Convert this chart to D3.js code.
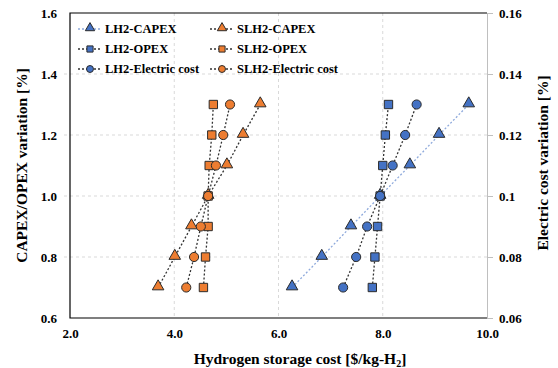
<!DOCTYPE html>
<html>
<head>
  <meta content="text/html;charset=utf-8" http-equiv="Content-Type">
  <title>Hydrogen storage cost sensitivity</title>
  <style type="text/css">
    body { margin: 0; background: #fff; }
    #chart text {
      font-family: "Liberation Serif", "Times New Roman", serif;
      font-weight: bold;
      fill: #000;
    }
  </style>
  <script src="https://cdnjs.cloudflare.com/ajax/libs/d3/7.6.1/d3.min.js"></script>
  <script>

    // variation levels (left axis) and electric cost variation (right axis)
    var variation = [0.7, 0.8, 0.9, 1.0, 1.1, 1.2, 1.3];
    var electricVariation = [0.07, 0.08, 0.09, 0.10, 0.11, 0.12, 0.13];

    // hydrogen storage cost [$/kg-H2]
    var lh2Capex  = [6.26, 6.83, 7.39, 7.95, 8.52, 9.08, 9.65];
    var lh2Opex   = [7.80, 7.85, 7.90, 7.95, 8.00, 8.05, 8.11];
    var lh2Elec   = [7.24, 7.49, 7.70, 7.95, 8.19, 8.43, 8.65];
    var slh2Capex = [3.69, 4.01, 4.33, 4.65, 5.01, 5.32, 5.65];
    var slh2Opex  = [4.56, 4.60, 4.65, 4.65, 4.67, 4.72, 4.75];
    var slh2Elec  = [4.23, 4.38, 4.51, 4.65, 4.80, 4.94, 5.07];

    var xTicks = [2, 4, 6, 8, 10];
    var yTicks = [0.6, 0.8, 1.0, 1.2, 1.4, 1.6];
    var y2Ticks = [0.06, 0.08, 0.1, 0.12, 0.14, 0.16];

    var legendOrder = ['LH2-CAPEX', 'LH2-OPEX', 'LH2-Electric cost', 'SLH2-CAPEX', 'SLH2-OPEX', 'SLH2-Electric cost'];

    function main() {
      var W = 558, H = 368;
      var m = {left: 70, right: 487, top: 13, bottom: 318};
      var blue = '#4472c4', orange = '#ed7d31';

      var svg = d3.select('#chart').attr('width', W).attr('height', H);

      var x = d3.scaleLinear().domain([2, 10]).range([m.left, m.right]);
      var y = d3.scaleLinear().domain([0.6, 1.6]).range([m.bottom, m.top]);
      var y2 = d3.scaleLinear().domain([0.06, 0.16]).range([m.bottom, m.top]);

      // grid
      var grid = svg.append('g').attr('stroke', '#d9d9d9').attr('stroke-dasharray', '3,3').attr('stroke-width', 1);
      grid.selectAll('.gx').data(xTicks.slice(1, -1)).enter().append('line')
        .attr('x1', d => x(d)).attr('x2', d => x(d)).attr('y1', m.top).attr('y2', m.bottom);
      grid.selectAll('.gy').data(yTicks.slice(1, -1)).enter().append('line')
        .attr('x1', m.left - 6).attr('x2', m.right).attr('y1', d => y(d)).attr('y2', d => y(d));

      // frame
      svg.append('path').attr('fill', 'none').attr('stroke', '#000').attr('stroke-width', 1.2)
        .attr('d', 'M' + m.right + ',' + m.top + 'H' + m.left + 'V' + m.bottom + 'H' + m.right);

      // right axis (gray)
      var yAxisR = svg.append('g').attr('transform', 'translate(' + m.right + ',0)')
        .call(d3.axisRight(y2).tickValues(y2Ticks).tickSize(6).tickFormat(d => d === 0.1 ? '0.1' : d3.format('.2f')(d)));
      yAxisR.select('.domain').attr('stroke', '#bfbfbf');
      yAxisR.selectAll('.tick line').attr('stroke', '#bfbfbf');
      yAxisR.selectAll('.tick text').attr('x', 12).style('font-size', '13px');
      yAxisR.attr('font-family', null);

      // left axis labels
      var yAxisL = svg.append('g').attr('transform', 'translate(' + m.left + ',0)')
        .call(d3.axisLeft(y).tickValues(yTicks).tickSize(0).tickFormat(d3.format('.1f')));
      yAxisL.select('.domain').remove();
      yAxisL.selectAll('.tick text').attr('x', -13).style('font-size', '13px');
      yAxisL.attr('font-family', null);

      // bottom axis labels
      var xAxis = svg.append('g').attr('transform', 'translate(0,' + m.bottom + ')')
        .call(d3.axisBottom(x).tickValues(xTicks).tickSize(0).tickFormat(d3.format('.1f')));
      xAxis.select('.domain').remove();
      xAxis.selectAll('.tick text').attr('y', 11).style('font-size', '13px');
      xAxis.attr('font-family', null);

      // titles
      svg.append('text').attr('x', 300).attr('y', 364).attr('text-anchor', 'middle')
        .style('font-size', '15.5px')
        .html('Hydrogen storage cost [$/kg-H<tspan font-size="10" dy="3">2</tspan><tspan dy="-3">]</tspan>');
      svg.append('text').attr('transform', 'translate(27,' + ((m.top + m.bottom) / 2) + ') rotate(-90)')
        .attr('text-anchor', 'middle').style('font-size', '15.5px').text('CAPEX/OPEX variation [%]');
      svg.append('text').attr('transform', 'translate(548,163) rotate(-90)')
        .attr('text-anchor', 'middle').style('font-size', '15.5px').text('Electric cost variation [%]');

      var tri = d3.symbol().type(d3.symbolTriangle).size(58);
      var sq = d3.symbol().type(d3.symbolSquare).size(70);
      var circ = d3.symbol().type(d3.symbolCircle).size(66);

      var series = [
        {name: 'LH2-CAPEX', xs: lh2Capex, ys: variation, yScale: y, color: blue, sym: tri, type: d3.symbolTriangle, line: '#8faadc', dy: -1},
        {name: 'LH2-OPEX', xs: lh2Opex, ys: variation, yScale: y, color: blue, sym: sq, type: d3.symbolSquare, line: '#333', dy: 0},
        {name: 'LH2-Electric cost', xs: lh2Elec, ys: electricVariation, yScale: y2, color: blue, sym: circ, type: d3.symbolCircle, line: '#333', dy: 0},
        {name: 'SLH2-CAPEX', xs: slh2Capex, ys: variation, yScale: y, color: orange, sym: tri, type: d3.symbolTriangle, line: '#333', dy: -1},
        {name: 'SLH2-OPEX', xs: slh2Opex, ys: variation, yScale: y, color: orange, sym: sq, type: d3.symbolSquare, line: '#333', dy: 0},
        {name: 'SLH2-Electric cost', xs: slh2Elec, ys: electricVariation, yScale: y2, color: orange, sym: circ, type: d3.symbolCircle, line: '#333', dy: 0}
      ];

      series.forEach(function(s) {
        var pts = s.xs.map((v, i) => [v, s.ys[i]]);
        svg.append('path').datum(pts)
          .attr('fill', 'none').attr('stroke', s.line).attr('stroke-width', 1.3)
          .attr('stroke-dasharray', '2,2')
          .attr('d', d3.line().x(d => x(d[0])).y(d => s.yScale(d[1])));
      });

      series.forEach(function(s) {
        var pts = s.xs.map((v, i) => [v, s.ys[i]]);
        svg.append('g').selectAll('path').data(pts).enter().append('path')
          .attr('d', s.sym)
          .attr('transform', d => 'translate(' + x(d[0]) + ',' + (s.yScale(d[1]) + s.dy) + ')')
          .attr('fill', s.color).attr('stroke', '#2b2b2b').attr('stroke-width', 1);
      });

      // legend, two columns of three
      var legendCols = [78, 210];
      var legendRows = [29, 49, 69];
      legendOrder.forEach(function(name, i) {
        var s = series.find(d => d.name === name);
        var lx = legendCols[Math.floor(i / 3)], ly = legendRows[i % 3];
        var g = svg.append('g').attr('transform', 'translate(' + lx + ',' + ly + ')');
        g.append('line').attr('x1', 0).attr('x2', 22).attr('y1', 0).attr('y2', 0)
          .attr('stroke', s.line).attr('stroke-width', 1.3).attr('stroke-dasharray', '2,2');
        g.append('path').attr('d', d3.symbol().type(s.type).size(38)).attr('transform', 'translate(12,' + s.dy + ')')
          .attr('fill', s.color).attr('stroke', '#2b2b2b').attr('stroke-width', 1);
        g.append('text').attr('x', 27).attr('y', 0).attr('dy', '0.35em')
          .style('font-size', '12.5px').text(name);
      });
    }

  </script>
</head>
<body onload='main()'>
  <svg id="chart"></svg>
</body>
</html>
